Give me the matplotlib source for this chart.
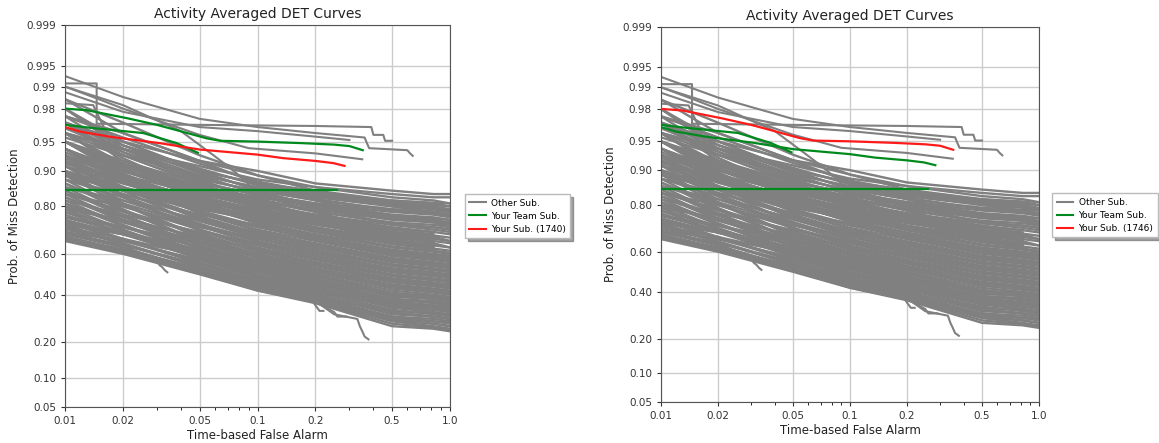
import numpy as np
import matplotlib
matplotlib.use("Agg")
import matplotlib.pyplot as plt
from statistics import NormalDist

# false alarm points shared by most of the "other" curves
FA_GRID = [0.01, 0.02, 0.05, 0.1, 0.2, 0.5, 0.82, 1.0]

OTHER_MISS = [
    [0.66, 0.60, 0.50, 0.42, 0.36, 0.26, 0.25, 0.24],
    [0.665, 0.605, 0.505, 0.425, 0.365, 0.27, 0.255, 0.245],
    [0.67, 0.61, 0.51, 0.43, 0.37, 0.28, 0.26, 0.25],
    [0.68, 0.615, 0.515, 0.435, 0.375, 0.285, 0.27, 0.26],
    [0.70, 0.63, 0.52, 0.44, 0.37, 0.29, 0.27, 0.26],
    [0.68, 0.62, 0.53, 0.45, 0.38, 0.30, 0.28, 0.27],
    [0.72, 0.645, 0.535, 0.45, 0.385, 0.295, 0.28, 0.275],
    [0.73, 0.65, 0.54, 0.46, 0.39, 0.30, 0.29, 0.28],
    [0.69, 0.64, 0.55, 0.47, 0.40, 0.31, 0.30, 0.29],
    [0.74, 0.665, 0.555, 0.465, 0.395, 0.315, 0.30, 0.29],
    [0.75, 0.67, 0.56, 0.47, 0.40, 0.32, 0.30, 0.29],
    [0.71, 0.66, 0.57, 0.48, 0.41, 0.33, 0.31, 0.30],
    [0.78, 0.695, 0.575, 0.485, 0.415, 0.325, 0.315, 0.305],
    [0.77, 0.69, 0.58, 0.49, 0.42, 0.34, 0.32, 0.31],
    [0.79, 0.705, 0.585, 0.495, 0.425, 0.345, 0.33, 0.32],
    [0.72, 0.67, 0.59, 0.50, 0.43, 0.34, 0.33, 0.32],
    [0.80, 0.71, 0.59, 0.51, 0.44, 0.35, 0.34, 0.33],
    [0.81, 0.725, 0.60, 0.515, 0.435, 0.355, 0.345, 0.335],
    [0.74, 0.69, 0.60, 0.52, 0.45, 0.36, 0.34, 0.33],
    [0.82, 0.73, 0.61, 0.53, 0.45, 0.37, 0.35, 0.34],
    [0.75, 0.69, 0.61, 0.525, 0.455, 0.365, 0.35, 0.345],
    [0.76, 0.70, 0.62, 0.54, 0.46, 0.38, 0.36, 0.35],
    [0.83, 0.745, 0.625, 0.535, 0.465, 0.375, 0.365, 0.355],
    [0.84, 0.75, 0.63, 0.54, 0.47, 0.38, 0.37, 0.36],
    [0.78, 0.72, 0.63, 0.55, 0.48, 0.39, 0.38, 0.37],
    [0.85, 0.765, 0.64, 0.55, 0.475, 0.395, 0.385, 0.375],
    [0.86, 0.77, 0.64, 0.56, 0.49, 0.40, 0.38, 0.37],
    [0.87, 0.785, 0.655, 0.565, 0.495, 0.405, 0.395, 0.385],
    [0.70, 0.66, 0.60, 0.54, 0.49, 0.41, 0.39, 0.38],
    [0.81, 0.74, 0.65, 0.57, 0.50, 0.42, 0.40, 0.39],
    [0.88, 0.79, 0.66, 0.58, 0.51, 0.43, 0.41, 0.40],
    [0.80, 0.745, 0.66, 0.585, 0.515, 0.435, 0.415, 0.405],
    [0.73, 0.69, 0.62, 0.57, 0.51, 0.44, 0.42, 0.41],
    [0.89, 0.805, 0.675, 0.595, 0.525, 0.445, 0.425, 0.415],
    [0.83, 0.76, 0.67, 0.59, 0.52, 0.45, 0.43, 0.42],
    [0.90, 0.81, 0.68, 0.60, 0.53, 0.46, 0.44, 0.43],
    [0.84, 0.785, 0.695, 0.615, 0.545, 0.465, 0.445, 0.435],
    [0.76, 0.72, 0.65, 0.60, 0.54, 0.47, 0.45, 0.44],
    [0.92, 0.835, 0.705, 0.625, 0.555, 0.475, 0.455, 0.445],
    [0.85, 0.78, 0.69, 0.61, 0.55, 0.48, 0.46, 0.45],
    [0.79, 0.75, 0.68, 0.62, 0.56, 0.49, 0.47, 0.46],
    [0.86, 0.81, 0.725, 0.645, 0.575, 0.495, 0.475, 0.465],
    [0.91, 0.83, 0.71, 0.63, 0.57, 0.50, 0.48, 0.47],
    [0.87, 0.80, 0.71, 0.64, 0.58, 0.51, 0.49, 0.48],
    [0.90, 0.835, 0.735, 0.655, 0.59, 0.515, 0.495, 0.485],
    [0.82, 0.77, 0.70, 0.65, 0.59, 0.52, 0.50, 0.49],
    [0.88, 0.83, 0.745, 0.675, 0.605, 0.525, 0.505, 0.495],
    [0.92, 0.85, 0.73, 0.66, 0.60, 0.53, 0.51, 0.50],
    [0.89, 0.82, 0.73, 0.67, 0.61, 0.54, 0.52, 0.51],
    [0.93, 0.855, 0.755, 0.685, 0.62, 0.545, 0.525, 0.515],
    [0.84, 0.80, 0.72, 0.67, 0.62, 0.55, 0.53, 0.52],
    [0.93, 0.86, 0.75, 0.68, 0.63, 0.56, 0.54, 0.53],
    [0.91, 0.855, 0.765, 0.695, 0.635, 0.565, 0.545, 0.535],
    [0.90, 0.84, 0.76, 0.69, 0.64, 0.57, 0.55, 0.54],
    [0.94, 0.875, 0.775, 0.705, 0.645, 0.575, 0.555, 0.545],
    [0.86, 0.82, 0.75, 0.70, 0.65, 0.58, 0.56, 0.55],
    [0.94, 0.88, 0.78, 0.71, 0.66, 0.59, 0.57, 0.56],
    [0.89, 0.85, 0.785, 0.725, 0.665, 0.595, 0.575, 0.565],
    [0.91, 0.86, 0.78, 0.72, 0.67, 0.60, 0.58, 0.57],
    [0.95, 0.895, 0.805, 0.735, 0.675, 0.605, 0.585, 0.575],
    [0.88, 0.84, 0.77, 0.73, 0.68, 0.61, 0.59, 0.58],
    [0.92, 0.875, 0.805, 0.745, 0.685, 0.615, 0.595, 0.59],
    [0.95, 0.89, 0.80, 0.74, 0.68, 0.62, 0.60, 0.59],
    [0.92, 0.87, 0.80, 0.74, 0.69, 0.63, 0.61, 0.60],
    [0.94, 0.89, 0.815, 0.755, 0.70, 0.635, 0.615, 0.605],
    [0.96, 0.905, 0.825, 0.765, 0.71, 0.645, 0.625, 0.615],
    [0.93, 0.885, 0.825, 0.775, 0.72, 0.655, 0.64, 0.63],
    [0.95, 0.905, 0.835, 0.785, 0.735, 0.675, 0.66, 0.65],
    [0.97, 0.925, 0.845, 0.795, 0.745, 0.685, 0.67, 0.66],
    [0.94, 0.90, 0.845, 0.805, 0.755, 0.70, 0.685, 0.675],
    [0.96, 0.915, 0.855, 0.815, 0.765, 0.715, 0.70, 0.69],
    [0.95, 0.915, 0.865, 0.825, 0.785, 0.735, 0.72, 0.71],
    [0.89, 0.85, 0.79, 0.75, 0.70, 0.65, 0.62],
    [0.895, 0.855, 0.795, 0.755, 0.705, 0.655, 0.625],
    [0.93, 0.88, 0.81, 0.76, 0.71, 0.66, 0.63],
    [0.925, 0.875, 0.805, 0.765, 0.715, 0.665, 0.635],
    [0.90, 0.86, 0.80, 0.76, 0.72, 0.67, 0.64],
    [0.94, 0.89, 0.82, 0.77, 0.73, 0.68, 0.65],
    [0.915, 0.875, 0.815, 0.775, 0.735, 0.685, 0.655],
    [0.91, 0.87, 0.82, 0.78, 0.74, 0.69, 0.66],
    [0.95, 0.90, 0.83, 0.79, 0.74, 0.69, 0.67],
    [0.935, 0.885, 0.825, 0.785, 0.745, 0.695, 0.675],
    [0.92, 0.88, 0.83, 0.79, 0.75, 0.70, 0.68],
    [0.96, 0.91, 0.84, 0.80, 0.76, 0.71, 0.69],
    [0.93, 0.89, 0.84, 0.80, 0.77, 0.72, 0.70],
    [0.96, 0.91, 0.85, 0.81, 0.77, 0.73, 0.72, 0.71],
    [0.94, 0.90, 0.85, 0.82, 0.78, 0.74, 0.73, 0.72],
    [0.97, 0.92, 0.86, 0.82, 0.79, 0.75, 0.74, 0.73],
    [0.975, 0.935, 0.875, 0.835, 0.795, 0.755, 0.745, 0.735],
    [0.95, 0.91, 0.86, 0.83, 0.80, 0.76, 0.75, 0.74],
    [0.965, 0.935, 0.885, 0.845, 0.805, 0.765, 0.755, 0.75],
    [0.97, 0.93, 0.87, 0.84, 0.81, 0.77, 0.76, 0.75],
    [0.95, 0.92, 0.87, 0.84, 0.81, 0.78, 0.77, 0.76],
    [0.98, 0.945, 0.895, 0.855, 0.825, 0.785, 0.775, 0.765],
    [0.98, 0.94, 0.88, 0.85, 0.82, 0.79, 0.78, 0.77],
    [0.96, 0.93, 0.89, 0.86, 0.83, 0.80, 0.79, 0.78],
    [0.97, 0.945, 0.905, 0.865, 0.835, 0.805, 0.795, 0.785],
    [0.97, 0.94, 0.90, 0.87, 0.84, 0.81, 0.80, 0.79],
    [0.975, 0.955, 0.915, 0.875, 0.845, 0.815, 0.805, 0.80],
    [0.98, 0.95, 0.90, 0.87, 0.85, 0.82, 0.81, 0.80],
    [0.96, 0.94, 0.91, 0.88, 0.86, 0.83, 0.82, 0.81],
    [0.985, 0.96, 0.92, 0.89, 0.86, 0.84, 0.83, 0.83],
    [0.97, 0.95, 0.92, 0.90, 0.87, 0.85, 0.84, 0.84],
    [0.985, 0.97, 0.93, 0.89, 0.85, 0.80, 0.78, 0.77],
    [0.975, 0.96, 0.92, 0.87, 0.82, 0.76, 0.74, 0.72],
    [0.97, 0.95, 0.90, 0.85, 0.80, 0.73, 0.71, 0.70],
    [0.965, 0.94, 0.89, 0.84, 0.78, 0.70, 0.68, 0.66],
    [0.96, 0.94, 0.88, 0.82, 0.76, 0.68, 0.65, 0.63],
    [0.955, 0.93, 0.87, 0.81, 0.74, 0.66, 0.64],
]

# other submissions with their own false alarm points (steps, early ends)
SPECIAL_FA = [
    [0.01, 0.0146, 0.0146, 0.05, 0.2, 0.39, 0.40, 0.45, 0.46, 0.5],
    [0.01, 0.02, 0.05, 0.1, 0.2, 0.36, 0.37, 0.38, 0.6, 0.62, 0.64],
    [0.01, 0.015, 0.02, 0.03, 0.05, 0.09, 0.2, 0.35],
    [0.01, 0.02, 0.05, 0.1, 0.2, 0.3],
    [0.01, 0.02, 0.04, 0.059, 0.07, 0.085, 0.095, 0.2, 0.5, 1.0],
    [0.01, 0.014, 0.016, 0.018, 0.02, 0.05, 0.1, 0.2, 0.5, 1.0],
    [0.01, 0.02, 0.025, 0.03, 0.031, 0.032, 0.033, 0.034],
    [0.01, 0.02, 0.05, 0.1, 0.19, 0.2, 0.21, 0.22],
    [0.01, 0.02, 0.05, 0.1, 0.2, 0.25, 0.33, 0.34, 0.35, 0.36, 0.377],
    [0.01, 0.02, 0.05, 0.1, 0.2, 0.25, 0.26, 0.29],
]
SPECIAL_MISS = [
    [0.991, 0.991, 0.969, 0.968, 0.967, 0.966, 0.958, 0.958, 0.951, 0.951],
    [0.993, 0.986, 0.973, 0.966, 0.96, 0.955, 0.948, 0.941, 0.938, 0.933, 0.929],
    [0.99, 0.985, 0.98, 0.972, 0.958, 0.941, 0.933, 0.923],
    [0.988, 0.978, 0.966, 0.962, 0.956, 0.952],
    [0.99, 0.982, 0.962, 0.93, 0.91, 0.88, 0.855, 0.84, 0.82, 0.81],
    [0.983, 0.982, 0.965, 0.93, 0.90, 0.86, 0.83, 0.81, 0.79, 0.78],
    [0.70, 0.64, 0.60, 0.565, 0.545, 0.535, 0.52, 0.51],
    [0.69, 0.63, 0.52, 0.44, 0.38, 0.35, 0.325, 0.325],
    [0.67, 0.62, 0.51, 0.43, 0.37, 0.31, 0.29, 0.26, 0.24, 0.22, 0.21],
    [0.665, 0.605, 0.505, 0.42, 0.365, 0.32, 0.30, 0.30],
]

# team submissions
TEAM_FA = [
    [0.01, 0.013, 0.021, 0.03, 0.038, 0.0545, 0.064, 0.1, 0.17, 0.25, 0.3, 0.352],
    [0.01, 0.012, 0.017, 0.031, 0.05, 0.1, 0.136, 0.2, 0.247, 0.283],
    [0.01, 0.014, 0.0255, 0.038, 0.049],
    [0.01, 0.26],
]
TEAM_MISS = [
    [0.98, 0.979, 0.9735, 0.968, 0.963, 0.954, 0.951, 0.95, 0.948, 0.946, 0.944, 0.938],
    [0.966, 0.9615, 0.956, 0.948, 0.939, 0.931, 0.925, 0.92, 0.916, 0.9105],
    [0.968, 0.965, 0.96, 0.948, 0.934],
    [0.852, 0.852],
]

PANEL_SUB_ID = ["1740", "1746"]
PANEL_MY_SUB = [1, 0]   # which team curve is "your sub" in each panel

X_TICKS = [0.01, 0.02, 0.05, 0.1, 0.2, 0.5, 1.0]
X_LABELS = ["0.01", "0.02", "0.05", "0.1", "0.2", "0.5", "1.0"]
Y_TICKS = [0.05, 0.10, 0.20, 0.40, 0.60, 0.80, 0.90, 0.95, 0.98, 0.99, 0.995, 0.999]
Y_LABELS = ["0.05", "0.10", "0.20", "0.40", "0.60", "0.80", "0.90", "0.95",
            "0.98", "0.99", "0.995", "0.999"]

_nd = NormalDist()
_ppf = np.vectorize(_nd.inv_cdf, otypes=[float])
_cdf = np.vectorize(_nd.cdf, otypes=[float])


def probit(p):
    p = np.clip(np.asarray(p, dtype=float), 1e-9, 1 - 1e-9)
    return _ppf(p)


def inv_probit(z):
    return _cdf(np.asarray(z, dtype=float))


GREY = "#808080"
GREEN = "#008a1e"
RED = "#ff1a1a"


def draw_panel(ax, sub_id, my_sub):
    # other submissions
    for miss in OTHER_MISS:
        ax.plot(FA_GRID[:len(miss)], miss, color=GREY, lw=1.7, zorder=2)
    for fa, miss in zip(SPECIAL_FA, SPECIAL_MISS):
        ax.plot(fa, miss, color=GREY, lw=1.5, zorder=2)

    # team subs, own sub in red
    for i, (fa, miss) in enumerate(zip(TEAM_FA, TEAM_MISS)):
        if i == my_sub:
            continue
        ax.plot(fa, miss, color=GREEN, lw=1.6, zorder=3)
    ax.plot(TEAM_FA[my_sub], TEAM_MISS[my_sub], color=RED, lw=1.6, zorder=4)

    ax.set_xscale("log")
    ax.set_yscale("function", functions=(probit, inv_probit))
    ax.set_xlim(0.01, 1.0)
    ax.set_ylim(0.05, 0.999)
    ax.set_xticks(X_TICKS)
    ax.set_xticklabels(X_LABELS)
    ax.set_yticks(Y_TICKS)
    ax.set_yticklabels(Y_LABELS)
    ax.yaxis.set_minor_locator(matplotlib.ticker.NullLocator())
    ax.tick_params(labelsize=7.5, colors="#333333", length=3)
    ax.tick_params(which="minor", length=2)
    ax.grid(True, color="#cccccc", lw=1.0, zorder=0)
    for s in ax.spines.values():
        s.set_color("#555555")

    ax.set_title("Activity Averaged DET Curves", fontsize=10, color="#222222", pad=5)
    ax.set_xlabel("Time-based False Alarm", fontsize=8.5, color="#222222", labelpad=2)
    ax.set_ylabel("Prob. of Miss Detection", fontsize=8.5, color="#222222")

    handles = [
        matplotlib.lines.Line2D([], [], color=GREY, lw=1.5),
        matplotlib.lines.Line2D([], [], color=GREEN, lw=1.5),
        matplotlib.lines.Line2D([], [], color=RED, lw=1.5),
    ]
    labels = ["Other Sub.", "Your Team Sub.", "Your Sub. ({})".format(sub_id)]
    return handles, labels


fig = plt.figure(figsize=(11.59, 4.43), dpi=100)
ax1 = fig.add_axes([0.0561, 0.0813, 0.3322, 0.8623])
ax2 = fig.add_axes([0.5703, 0.0919, 0.3261, 0.8479])

leg_kw = dict(loc="upper left", fontsize=6.5, shadow=True, fancybox=False,
              framealpha=1, edgecolor="#bbbbbb", handlelength=1.8,
              handletextpad=0.6, borderpad=0.5, labelspacing=0.45,
              borderaxespad=0)

h, l = draw_panel(ax1, PANEL_SUB_ID[0], PANEL_MY_SUB[0])
fig.legend(h, l, bbox_to_anchor=(0.401, 0.562), **leg_kw)

h, l = draw_panel(ax2, PANEL_SUB_ID[1], PANEL_MY_SUB[1])
fig.legend(h, l, bbox_to_anchor=(0.908, 0.564), **leg_kw)

fig.savefig("out.png", dpi=100)
